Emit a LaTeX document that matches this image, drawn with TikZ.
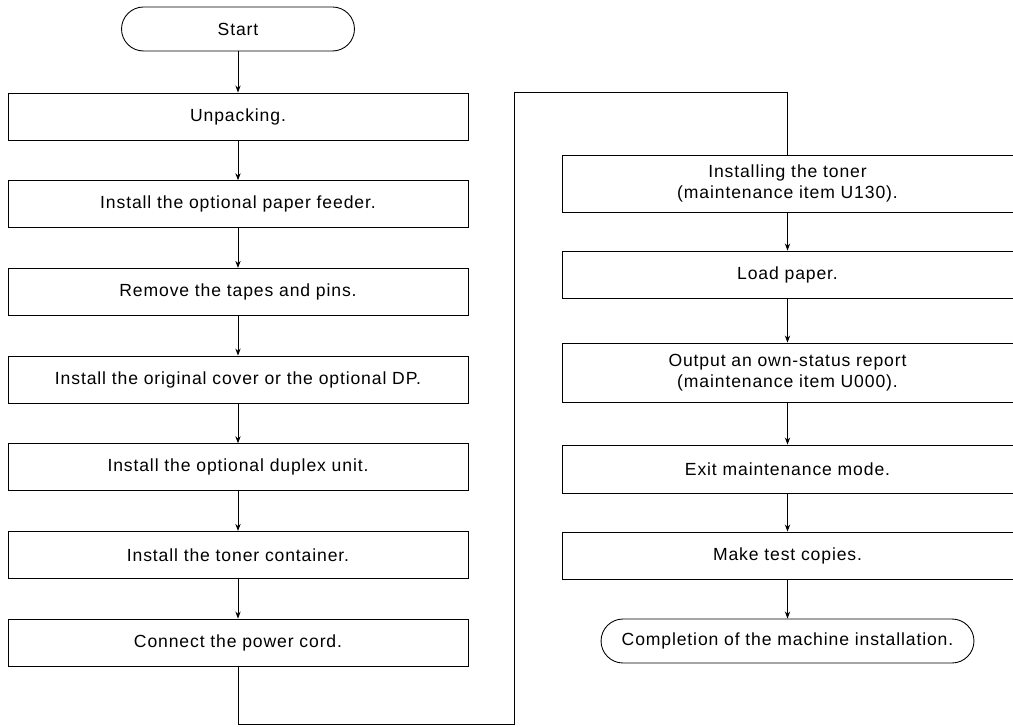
\documentclass[tikz,border=0pt]{standalone}
\usepackage{fontspec}
\setmainfont{Liberation Sans}[LetterSpace=5]
\usepackage{tikz}
\usetikzlibrary{shapes.misc,arrows.meta}

\tikzset{
  stepbox/.style={draw, line width=0.5pt, minimum width=9.2cm, minimum height=0.94cm, align=center, inner sep=0pt, font=\fontsize{10}{12}\selectfont},
  rightbox/.style={stepbox, minimum width=9.02cm},
  endbox/.style={draw, line width=0.5pt, rounded rectangle, minimum height=0.88cm, align=center, inner sep=0pt, font=\fontsize{10}{12}\selectfont},
  flow/.style={line width=0.5pt, -{Stealth[length=4pt,width=3pt]}}
}

\begin{document}
\begin{tikzpicture}[x=0.02cm,y=-0.02cm]
\useasboundingbox (0,0) rectangle (1013,726);
\node[endbox, minimum width=4.66cm] (start) at (238,29) {Start};
\foreach \txt [count=\i] in {Unpacking.,Install the optional paper feeder.,Remove the tapes and pins.,Install the original cover or the optional DP.,Install the optional duplex unit.,Install the toner container.,Connect the power cord.}{
  \node[stepbox] (s\i) at (238,{116.5+87.67*(\i-1)}) {\txt};}
\node[rightbox, minimum height=1.14cm] (r1) at (787.5,183.5) {Installing the toner\\(maintenance item U130).};
\node[rightbox] (r2) at (787.5,274.5) {Load paper.};
\node[rightbox, minimum height=1.18cm] (r3) at (787.5,372.5) {Output an own-status report\\(maintenance item U000).};
\node[rightbox, minimum height=0.96cm] (r4) at (787.5,469) {Exit maintenance mode.};
\node[rightbox] (r5) at (787.5,555.5) {Make test copies.};
\node[endbox, minimum width=7.46cm] (finish) at (787.5,641) {Completion of the machine installation.};
\foreach \a/\b in {start/s1,s1/s2,s2/s3,s3/s4,s4/s5,s5/s6,s6/s7,r1/r2,r2/r3,r3/r4,r4/r5,r5/finish}{
  \draw[flow] (\a.south) -- (\b.north);}
% link between the two columns
\coordinate (low) at (514,724.5);
\coordinate (high) at (514,92);
\draw[line width=0.5pt] (s7.south) |- (low) -- (high) -| (r1.north);
\end{tikzpicture}
\end{document}
